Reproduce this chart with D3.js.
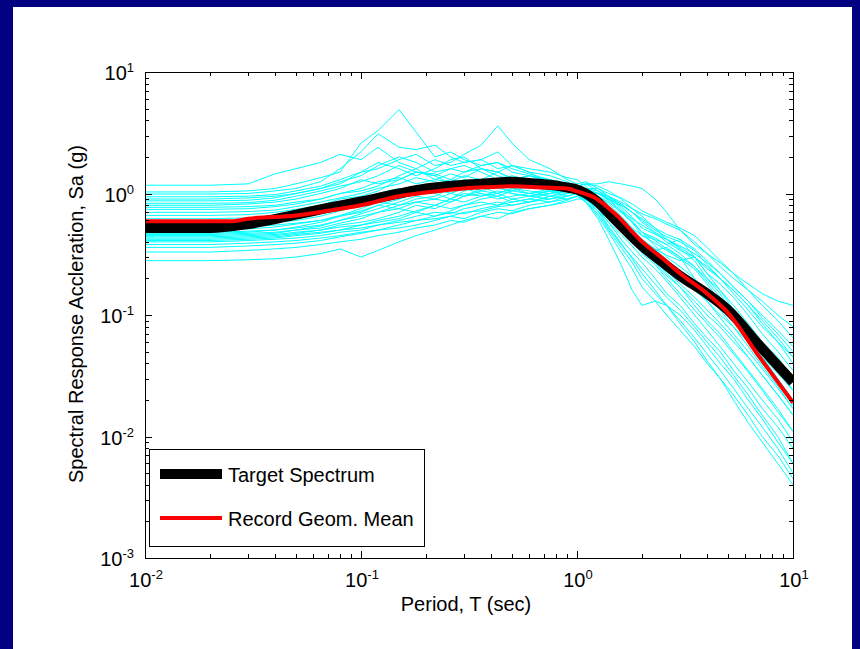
<!DOCTYPE html>
<html>
<head>
<meta charset="utf-8">
<script src="https://cdn.jsdelivr.net/npm/d3@7"></script>
<style>
  html, body { margin: 0; padding: 0; background: #000080; }
  svg { display: block; }
  text { font-family: "Liberation Sans", Arial, Helvetica, sans-serif; fill: #000; }
</style>
</head>
<body>
<svg id="chart" width="860" height="649"></svg>
<script>
// periods (sec) at which every record is sampled
const periods = [0.01, 0.02, 0.03, 0.04, 0.05, 0.065, 0.08, 0.1, 0.12, 0.15, 0.18, 0.22, 0.26, 0.3, 0.36, 0.43,
  0.5, 0.6, 0.75, 0.9,
  1.0, 1.1, 1.25, 1.4, 1.6, 1.8, 2.0, 2.3, 2.6, 3.0, 3.5, 4.0, 4.6, 5.3, 6.2, 7.2, 8.5, 10];

// individual (scaled) ground motion records, Sa in g
const records = [
  [1.17,1.17,1.2,1.45,1.6,1.8,2.1,1.9,2.4,1.8,1.6,1.9,1.7,1.8,1.9,1.6,1.7,1.5,1.4,1.25,
   1.15,1.2,1.05,0.9,0.72,0.62,0.55,0.47,0.4,0.34,0.3,0.24,0.2,0.16,0.12,0.09,0.065,0.045],
  [1.03,1.03,1.05,1.1,1.2,1.35,1.5,2.6,3.3,4.9,3.2,2.0,2.2,1.9,1.7,1.8,1.5,1.4,1.3,1.2,
   1.1,1.0,0.85,0.7,0.55,0.45,0.38,0.34,0.36,0.3,0.2,0.15,0.12,0.09,0.06,0.04,0.028,0.018],
  [0.99,0.99,1.0,1.05,1.1,1.25,1.6,2.2,3.1,2.4,2.3,2.5,2.0,1.8,1.9,2.2,1.7,1.6,1.5,1.35,
   1.3,1.15,0.9,0.7,0.5,0.4,0.33,0.27,0.21,0.17,0.12,0.09,0.07,0.05,0.035,0.025,0.017,0.011],
  [0.94,0.94,0.95,0.98,1.05,1.15,1.3,1.5,1.6,1.9,2.1,1.7,1.8,2.1,2.5,3.6,2.6,1.9,1.6,1.3,
   1.2,1.25,1.1,0.95,0.75,0.6,0.48,0.37,0.3,0.25,0.2,0.15,0.12,0.09,0.065,0.045,0.03,0.02],
  [0.9,0.9,0.92,0.95,1.0,1.1,1.25,1.4,1.7,2.0,1.8,1.5,1.6,1.5,1.7,1.8,1.6,1.45,1.3,1.2,
   1.15,1.2,1.2,1.25,1.2,1.15,1.1,0.9,0.7,0.5,0.38,0.32,0.27,0.22,0.18,0.15,0.13,0.12],
  [0.87,0.87,0.88,0.92,1.0,1.1,1.2,1.5,1.8,1.6,1.4,1.6,1.9,2.0,1.6,1.5,1.7,1.5,1.2,1.1,
   1.05,0.9,0.72,0.52,0.38,0.3,0.24,0.18,0.14,0.11,0.08,0.06,0.045,0.032,0.022,0.015,0.01,0.006],
  [0.83,0.83,0.84,0.88,0.95,1.05,1.15,1.25,1.4,1.7,1.5,1.45,1.3,1.5,1.6,1.4,1.3,1.4,1.25,1.15,
   1.1,1.0,0.9,0.72,0.58,0.47,0.4,0.35,0.31,0.28,0.3,0.22,0.16,0.11,0.08,0.06,0.045,0.03],
  [0.8,0.8,0.82,0.85,0.9,1.0,1.1,1.3,1.2,1.3,1.5,1.4,1.6,1.7,1.5,1.3,1.4,1.3,1.2,1.1,
   1.1,1.1,1.0,0.9,0.8,0.7,0.62,0.52,0.46,0.42,0.35,0.28,0.22,0.17,0.13,0.1,0.075,0.055],
  [0.77,0.77,0.78,0.8,0.85,0.9,1.0,1.1,1.25,1.35,1.2,1.3,1.45,1.35,1.6,1.5,1.3,1.25,1.15,1.1,
   1.05,0.9,0.75,0.58,0.42,0.33,0.27,0.2,0.15,0.12,0.085,0.065,0.05,0.035,0.025,0.017,0.012,0.008],
  [0.74,0.74,0.75,0.78,0.82,0.9,1.0,1.05,1.15,1.4,1.6,1.3,1.25,1.4,1.3,1.5,1.35,1.2,1.1,1.05,
   1.0,1.0,0.95,0.82,0.65,0.52,0.45,0.42,0.38,0.42,0.3,0.22,0.18,0.14,0.1,0.07,0.05,0.035],
  [0.7,0.7,0.71,0.73,0.78,0.85,0.92,1.0,1.1,1.2,1.35,1.25,1.15,1.3,1.25,1.2,1.3,1.4,1.25,1.2,
   1.15,1.2,1.15,1.05,0.9,0.75,0.65,0.52,0.42,0.35,0.28,0.2,0.15,0.1,0.07,0.05,0.035,0.024],
  [0.66,0.66,0.67,0.7,0.74,0.8,0.9,0.95,1.05,1.3,1.5,1.4,1.2,1.1,1.25,1.3,1.2,1.1,1.15,1.05,
   1.0,0.85,0.65,0.48,0.33,0.24,0.17,0.13,0.1,0.075,0.055,0.04,0.03,0.022,0.015,0.01,0.007,0.0045],
  [0.62,0.62,0.63,0.66,0.7,0.75,0.8,0.9,1.0,1.1,1.05,1.2,1.3,1.25,1.1,1.2,1.35,1.25,1.1,1.1,
   1.05,1.05,1.0,0.9,0.78,0.64,0.52,0.46,0.42,0.36,0.3,0.25,0.2,0.16,0.12,0.085,0.06,0.04],
  [0.58,0.58,0.59,0.62,0.65,0.7,0.78,0.85,0.95,1.05,1.15,1.1,1.0,1.15,1.2,1.1,1.05,1.15,1.2,1.15,
   1.1,1.0,0.85,0.68,0.54,0.43,0.35,0.28,0.22,0.17,0.13,0.1,0.08,0.06,0.045,0.032,0.022,0.015],
  [0.55,0.55,0.56,0.58,0.6,0.65,0.72,0.8,0.85,0.95,1.1,1.0,0.9,1.05,1.15,1.0,1.1,1.05,1.0,1.05,
   1.1,1.1,1.0,0.88,0.72,0.58,0.45,0.39,0.34,0.29,0.24,0.18,0.13,0.095,0.07,0.05,0.035,0.024],
  [0.52,0.52,0.53,0.55,0.57,0.6,0.65,0.72,0.8,0.9,1.0,1.1,1.0,0.95,1.05,1.15,1.0,0.95,1.05,1.1,
   1.05,0.85,0.62,0.42,0.26,0.16,0.12,0.13,0.12,0.1,0.075,0.055,0.04,0.03,0.02,0.014,0.009,0.006],
  [0.5,0.5,0.51,0.53,0.56,0.6,0.66,0.75,0.85,0.8,0.9,0.95,1.1,1.2,1.05,1.0,1.1,1.15,1.05,1.0,
   1.05,1.1,1.1,1.0,0.92,0.82,0.72,0.64,0.58,0.52,0.45,0.36,0.28,0.22,0.16,0.12,0.09,0.065],
  [0.48,0.48,0.49,0.5,0.52,0.55,0.6,0.68,0.75,0.85,0.95,0.9,1.0,1.1,1.0,0.95,1.05,1.0,1.1,1.05,
   1.0,0.9,0.78,0.64,0.5,0.41,0.34,0.28,0.23,0.18,0.14,0.11,0.085,0.065,0.045,0.032,0.022,0.015],
  [0.47,0.47,0.48,0.5,0.53,0.58,0.65,0.7,0.8,0.75,0.85,0.9,0.85,0.95,1.1,1.2,1.1,1.0,0.95,1.05,
   1.1,1.0,0.88,0.75,0.6,0.5,0.42,0.35,0.28,0.23,0.19,0.15,0.11,0.08,0.055,0.038,0.026,0.017],
  [0.46,0.46,0.47,0.48,0.5,0.54,0.6,0.65,0.7,0.8,0.85,0.8,0.9,1.0,0.95,1.05,1.0,0.95,1.0,1.1,
   1.05,1.05,1.0,0.92,0.82,0.7,0.6,0.5,0.44,0.4,0.34,0.26,0.2,0.15,0.11,0.08,0.06,0.045],
  [0.45,0.45,0.46,0.47,0.5,0.52,0.57,0.62,0.7,0.75,0.7,0.8,0.9,0.85,0.95,1.0,0.9,0.85,0.95,1.0,
   1.05,0.9,0.72,0.54,0.39,0.29,0.22,0.16,0.12,0.085,0.06,0.042,0.03,0.02,0.013,0.009,0.006,0.004],
  [0.44,0.44,0.45,0.46,0.48,0.5,0.55,0.58,0.62,0.7,0.8,0.75,0.85,0.95,1.0,0.9,0.95,1.0,1.05,0.95,
   1.0,1.0,0.95,0.85,0.7,0.58,0.48,0.41,0.35,0.3,0.25,0.2,0.16,0.12,0.085,0.06,0.042,0.028],
  [0.43,0.43,0.44,0.45,0.47,0.5,0.53,0.55,0.6,0.65,0.72,0.8,0.75,0.8,0.9,0.95,0.85,0.9,1.0,1.05,
   1.0,0.85,0.68,0.5,0.36,0.27,0.2,0.15,0.12,0.09,0.065,0.048,0.035,0.025,0.017,0.012,0.008,0.005],
  [0.42,0.42,0.43,0.44,0.46,0.48,0.5,0.55,0.58,0.62,0.7,0.65,0.72,0.8,0.85,0.8,0.9,0.95,0.9,1.0,
   1.05,1.1,1.05,0.95,0.82,0.7,0.58,0.48,0.42,0.37,0.32,0.27,0.22,0.17,0.13,0.095,0.07,0.05],
  [0.41,0.41,0.42,0.43,0.45,0.47,0.5,0.52,0.55,0.6,0.65,0.7,0.68,0.75,0.8,0.85,0.8,0.85,0.95,0.9,
   0.95,0.85,0.72,0.58,0.46,0.37,0.3,0.24,0.19,0.14,0.1,0.075,0.055,0.04,0.028,0.02,0.014,0.009],
  [0.4,0.4,0.41,0.42,0.43,0.45,0.48,0.5,0.55,0.58,0.6,0.65,0.7,0.68,0.75,0.8,0.85,0.9,0.85,0.95,
   1.0,1.0,0.95,0.85,0.7,0.58,0.48,0.43,0.38,0.32,0.25,0.19,0.14,0.1,0.075,0.055,0.04,0.028],
  [0.38,0.38,0.39,0.4,0.41,0.43,0.45,0.48,0.5,0.55,0.6,0.62,0.65,0.7,0.72,0.78,0.8,0.85,0.9,0.95,
   1.0,0.95,0.85,0.72,0.58,0.47,0.38,0.31,0.25,0.2,0.16,0.13,0.1,0.08,0.06,0.045,0.033,0.024],
  [0.36,0.36,0.37,0.38,0.39,0.41,0.44,0.47,0.5,0.52,0.55,0.6,0.65,0.62,0.7,0.75,0.72,0.8,0.85,0.9,
   0.95,1.0,1.0,0.95,0.85,0.75,0.68,0.62,0.56,0.5,0.4,0.32,0.25,0.2,0.16,0.13,0.1,0.08],
  [0.33,0.33,0.34,0.35,0.36,0.38,0.4,0.42,0.45,0.48,0.52,0.55,0.6,0.58,0.65,0.7,0.68,0.75,0.8,0.88,
   0.95,0.88,0.76,0.62,0.5,0.4,0.32,0.26,0.2,0.15,0.11,0.085,0.065,0.048,0.034,0.024,0.016,0.011],
  [0.28,0.28,0.285,0.29,0.3,0.32,0.35,0.3,0.34,0.4,0.45,0.5,0.55,0.6,0.65,0.62,0.7,0.75,0.8,0.85,
   0.9,0.9,0.88,0.78,0.64,0.52,0.41,0.33,0.27,0.22,0.17,0.13,0.095,0.07,0.05,0.036,0.025,0.017]
];

// target spectrum (thick black)
const targetT  = [0.01, 0.02, 0.03, 0.05, 0.07, 0.1, 0.15, 0.2, 0.3, 0.4, 0.5, 0.6, 0.75, 0.9, 1.0, 1.2, 1.5, 2.0, 2.5, 3.0, 4.0, 5.0, 7.0, 10];
const targetSa = [0.52, 0.52, 0.56, 0.67, 0.76, 0.86, 1.0, 1.1, 1.18, 1.22, 1.25, 1.22, 1.18, 1.12, 1.08, 0.9, 0.61, 0.37, 0.27, 0.21, 0.15, 0.11, 0.056, 0.028];

// geometric mean of the records (red)
const meanT  = [0.01, 0.02, 0.025, 0.03, 0.05, 0.07, 0.1, 0.15, 0.2, 0.3, 0.4, 0.5, 0.7, 0.9, 1.0, 1.2, 1.5, 2.0, 2.5, 3.0, 4.0, 5.0, 7.0, 10];
const meanSa = [0.59, 0.59, 0.59, 0.62, 0.66, 0.72, 0.8, 0.95, 1.02, 1.1, 1.13, 1.15, 1.12, 1.1, 1.04, 0.93, 0.68, 0.4, 0.29, 0.22, 0.15, 0.104, 0.045, 0.019];

const xMajor = [0.01, 0.1, 1, 10];
const yMajor = [0.001, 0.01, 0.1, 1, 10];
const legendItems = ['Target Spectrum', 'Record Geom. Mean'];

const box = { left: 145, top: 72, right: 793, bottom: 558 };
const x = d3.scaleLog().domain([1e-2, 1e1]).range([box.left, box.right]);
const y = d3.scaleLog().domain([1e-3, 1e1]).range([box.bottom, box.top]);

const svg = d3.select('#chart');
svg.append('rect').attr('x', 13).attr('y', 7).attr('width', 839).attr('height', 642).attr('fill', '#fff');

svg.append('clipPath').attr('id', 'clip').append('rect')
  .attr('x', box.left).attr('y', box.top).attr('width', box.right - box.left).attr('height', box.bottom - box.top);

const plot = svg.append('g').attr('clip-path', 'url(#clip)');
const rough  = d3.line().x(d => x(d[0])).y(d => y(d[1]));
const smooth = d3.line().x(d => x(d[0])).y(d => y(d[1])).curve(d3.curveMonotoneX);

plot.selectAll('path.rec').data(records).enter().append('path')
  .attr('class', 'rec')
  .attr('d', r => rough(periods.map((t, i) => [t, r[i]])))
  .attr('fill', 'none').attr('stroke', '#00ffff').attr('stroke-width', 1);

plot.append('path').attr('d', smooth(targetT.map((t, i) => [t, targetSa[i]])))
  .attr('fill', 'none').attr('stroke', '#000').attr('stroke-width', 10);
plot.append('path').attr('d', smooth(meanT.map((t, i) => [t, meanSa[i]])))
  .attr('fill', 'none').attr('stroke', '#ff0000').attr('stroke-width', 4);

// axes: ticks point inwards on all four sides (matlab box style)
const xMinor = x.ticks().filter(t => !xMajor.some(m => Math.abs(m - t) < t * 1e-6));
const yMinor = y.ticks().filter(t => !yMajor.some(m => Math.abs(m - t) < t * 1e-6));
const axes = svg.append('g').attr('shape-rendering', 'crispEdges');
function addAxis(gen, scale, vals, size, tr) {
  const g = axes.append('g').attr('transform', tr)
    .call(gen(scale).tickValues(vals).tickSizeInner(-size).tickSizeOuter(0).tickFormat(''));
  g.select('.domain').remove();
  g.selectAll('line').attr('stroke', '#000');
}
addAxis(d3.axisBottom, x, xMajor, 7, `translate(0,${box.bottom})`);
addAxis(d3.axisBottom, x, xMinor, 4, `translate(0,${box.bottom})`);
addAxis(d3.axisTop, x, xMajor, 7, `translate(0,${box.top})`);
addAxis(d3.axisTop, x, xMinor, 4, `translate(0,${box.top})`);
addAxis(d3.axisLeft, y, yMajor, 7, `translate(${box.left},0)`);
addAxis(d3.axisLeft, y, yMinor, 4, `translate(${box.left},0)`);
addAxis(d3.axisRight, y, yMajor, 7, `translate(${box.right},0)`);
addAxis(d3.axisRight, y, yMinor, 4, `translate(${box.right},0)`);
axes.append('rect').attr('x', box.left).attr('y', box.top)
  .attr('width', box.right - box.left).attr('height', box.bottom - box.top)
  .attr('fill', 'none').attr('stroke', '#000');

// tick labels 10^n
function powLabel(sel) {
  sel.append('tspan').text('10');
  sel.append('tspan').attr('font-size', 13).attr('dy', -8).text(d => Math.round(Math.log10(d)));
}
svg.append('g').selectAll('text').data(xMajor).enter().append('text')
  .attr('x', d => x(d) + 1).attr('y', box.bottom + 29).attr('text-anchor', 'middle')
  .attr('font-size', 20).call(powLabel);
svg.append('g').selectAll('text').data(yMajor).enter().append('text')
  .attr('x', 134).attr('y', d => y(d) + 8).attr('text-anchor', 'end')
  .attr('font-size', 20).call(powLabel);

svg.append('text').attr('x', 466).attr('y', 611).attr('text-anchor', 'middle')
  .attr('font-size', 20).text('Period, T (sec)');
svg.append('text').attr('transform', 'translate(83,314) rotate(-90)').attr('text-anchor', 'middle')
  .attr('font-size', 20).text('Spectral Response Accleration, Sa (g)');

// legend
const lg = svg.append('g');
lg.append('rect').attr('x', 149.5).attr('y', 449.5).attr('width', 275).attr('height', 97)
  .attr('fill', '#fff').attr('stroke', '#000');
const lgStyle = [{ c: '#000', w: 10, y: 474 }, { c: '#ff0000', w: 4, y: 518 }];
legendItems.forEach((name, i) => {
  lg.append('line').attr('x1', 160).attr('x2', 222).attr('y1', lgStyle[i].y).attr('y2', lgStyle[i].y)
    .attr('stroke', lgStyle[i].c).attr('stroke-width', lgStyle[i].w);
  lg.append('text').attr('x', 228).attr('y', lgStyle[i].y + 8).attr('font-size', 20).text(name);
});
</script>
</body>
</html>
